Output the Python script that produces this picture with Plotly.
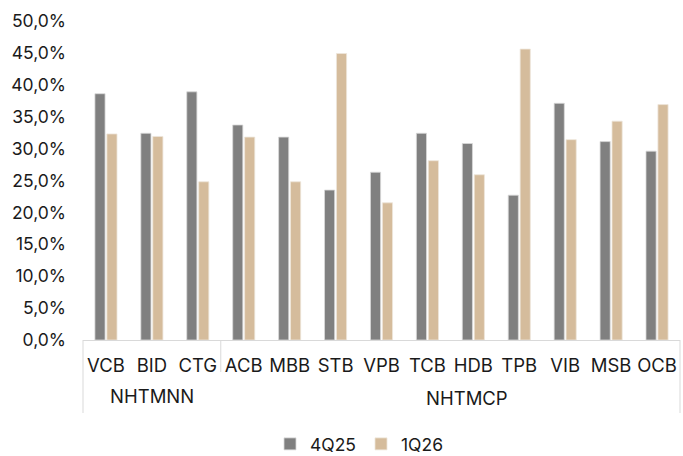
import plotly.graph_objects as go

banks = ["VCB", "BID", "CTG", "ACB", "MBB", "STB", "VPB", "TCB", "HDB", "TPB", "VIB", "MSB", "OCB"]
groups = ["NHTMNN", "NHTMCP"]
q4_25 = [38.6, 32.4, 38.9, 33.7, 31.8, 23.5, 26.3, 32.4, 30.8, 22.7, 37.1, 31.1, 29.6]
q1_26 = [32.3, 31.9, 24.8, 31.8, 24.8, 44.9, 21.5, 28.1, 25.9, 45.6, 31.4, 34.3, 36.9]
yticks = [0, 5, 10, 15, 20, 25, 30, 35, 40, 45, 50]
ytick_text = [f"{v:.1f}%".replace(".", ",") for v in yticks]

font = "Inter"
txt = "#1a1a1a"
fig = go.Figure()
fig.add_bar(x=banks, y=q4_25, name="4Q25", marker=dict(color="#808080", line=dict(color="#d9d9d9", width=0.8)))
fig.add_bar(x=banks, y=q1_26, name="1Q26", marker=dict(color="#d5bc9c", line=dict(color="#eee6da", width=0.8)))

H = 319.0
def py(pix):
    return (340 - pix) / H

shapes = [
    dict(type="line", xref="paper", yref="paper", x0=0, x1=0, y0=0, y1=py(413), line=dict(color="#d9d9d9", width=1)),
    dict(type="line", xref="x", yref="paper", x0=2.5, x1=2.5, y0=0, y1=py(372), line=dict(color="#d9d9d9", width=1)),
    dict(type="line", xref="paper", yref="paper", x0=1, x1=1, y0=0, y1=py(413), line=dict(color="#d9d9d9", width=1)),
]
annotations = [
    dict(text=groups[0], xref="x", yref="paper", x=1, y=py(396), showarrow=False, font=dict(family=font, size=18.5, color=txt), yanchor="middle"),
    dict(text=groups[1], xref="paper", yref="paper", x=(467 - 83) / 597, y=py(398), showarrow=False, font=dict(family=font, size=18.5, color=txt), yanchor="middle"),
]

fig.update_layout(
    width=683, height=456,
    margin=dict(l=83, r=3, t=21, b=116, autoexpand=False),
    paper_bgcolor="white", plot_bgcolor="white",
    barmode="group", bargap=0.48, bargroupgap=0.15,
    font=dict(family=font, size=17, color=txt),
    showlegend=True,
    legend=dict(orientation="h", xref="container", yref="container",
                x=270 / 683, xanchor="left", y=1 - 444 / 456, yanchor="middle",
                font=dict(family=font, size=17.5, color=txt), itemwidth=30, tracegroupgap=0, traceorder="normal"),
    shapes=shapes, annotations=annotations,
)
fig.update_xaxes(type="category", range=[-0.5, 12.5], showline=True, linecolor="#d9d9d9", linewidth=1, automargin=False,
                 ticks="", tickfont=dict(family=font, size=18.5, color=txt), ticklabelstandoff=9, showgrid=False)
fig.update_yaxes(range=[0, 50], tickvals=yticks, ticktext=ytick_text, showgrid=False, zeroline=False, automargin=False,
                 showline=False, ticks="", tickfont=dict(family=font, size=17.5, color=txt), ticklabelstandoff=16)

fig.write_html("out.html")
